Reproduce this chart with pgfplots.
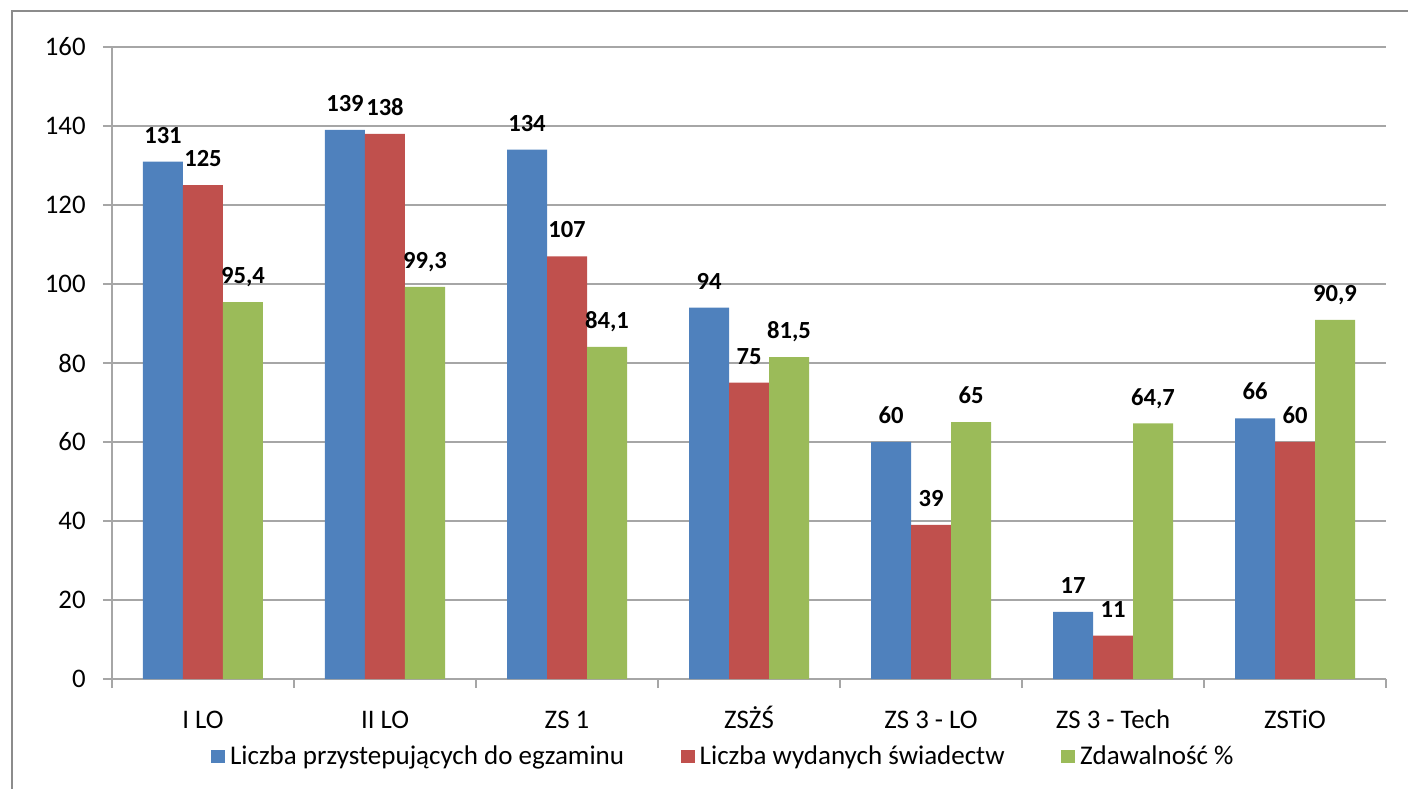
\documentclass[border=0pt]{standalone}
\usepackage{pgfplots}
\pgfplotsset{compat=1.18}
\usepackage{pgfplotstable}
\usepackage{fontspec}
\setmainfont{Carlito}
\definecolor{sblue}{HTML}{4F81BD}
\definecolor{sred}{HTML}{C0504D}
\definecolor{sgreen}{HTML}{9BBB59}
\definecolor{gridc}{HTML}{A6A6A6}
\definecolor{framec}{HTML}{8C8C8C}
\pgfplotstableread{
x a b c
0 131 125 95.4
1 139 138 99.3
2 134 107 84.1
3 94 75 81.5
4 60 39 65
5 17 11 64.7
6 66 60 90.9
}\data
\begin{document}
\fontsize{13.5bp}{16bp}\selectfont
\begin{tikzpicture}
\useasboundingbox (-56bp,-55bp) rectangle (648bp,339.5bp);
\draw[framec, line width=1.2bp] (-50bp,-56bp) -- (-50bp,334bp) -- (649bp,334bp);
\begin{axis}[
  at={(0,0)}, anchor=south west,
  scale only axis, width=637bp, height=316bp,
  font=\fontsize{13.4bp}{16bp}\selectfont,
  ymin=0, ymax=160, ytick={0,20,...,160},
  xmin=-0.5, xmax=6.5, xtick={0,...,6},
  xticklabels={I LO, II LO, ZS 1, ZSŻŚ, ZS 3 - LO, ZS 3 - Tech, ZSTiO},
  minor xtick={-0.5,0.5,...,6.5},
  axis x line*=bottom, axis y line*=left,
  axis line style={gridc, line width=0.75bp},
  ymajorgrids, major grid style={gridc, line width=0.75bp},
  tick align=outside,
  major tick length=4.5bp, minor tick length=4.5bp,
  tick style={gridc, line width=0.75bp},
  major x tick style={draw=none},
  minor x tick style={gridc, line width=0.75bp},
  ybar=0pt, bar width=20bp,
  clip=false,
  nodes near coords,
  every node near coord/.append style={font=\fontsize{12.3bp}{15bp}\selectfont\bfseries, text depth=0pt, inner sep=0pt, yshift=9bp, anchor=south},
  /pgf/number format/use comma,
  /pgf/number format/fixed,
  /pgf/number format/precision=1,
  /pgf/number format/1000 sep={},
  /pgf/number format/assume math mode=true,
  yticklabel style={xshift=-4bp},
  xticklabel style={anchor=base, yshift=-20bp, inner sep=0pt},
  legend columns=3,
  legend style={at={(rel axis cs:0.0775,-0.123)}, anchor=west, draw=none, fill=none,
    inner sep=0pt, nodes={inner xsep=2.5bp, inner ysep=0pt},
    font=\fontsize{13.5bp}{16bp}\selectfont,
    /tikz/every even column/.append style={column sep=25.8bp}},
  legend image code/.code={\fill[#1] (0bp,-3.25bp) rectangle (7bp,3.25bp);},
]
\addplot[fill=sblue, draw=none] table[x=x,y=a]{\data};
\addplot[fill=sred, draw=none] table[x=x,y=b]{\data};
\addplot[fill=sgreen, draw=none] table[x=x,y=c]{\data};
\legend{Liczba przystepujących do egzaminu, Liczba wydanych świadectw, Zdawalność \%}
\end{axis}
\end{tikzpicture}
\end{document}
